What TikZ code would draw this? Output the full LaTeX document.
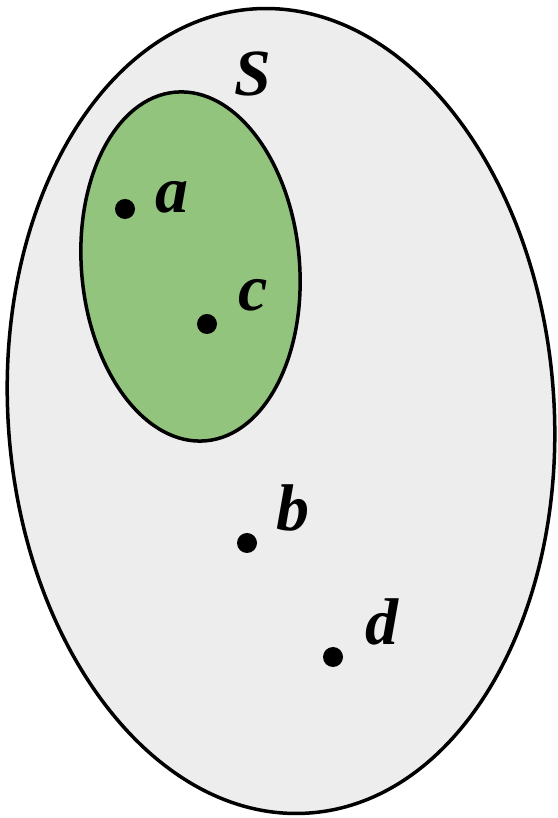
\documentclass[tikz,border=0pt]{standalone}
\usepackage{fontspec}
\setmainfont{Liberation Serif}
\usepackage{xcolor}
\usetikzlibrary{positioning}

\definecolor{setgray}{RGB}{237,237,237}
\definecolor{subgreen}{RGB}{146,196,126}
\newcommand{\setfont}{\fontsize{66}{66}\selectfont\bfseries\itshape}

\begin{document}
\begin{tikzpicture}[x=1pt, y=1pt, line width=3.5pt, node distance=1cm,
    dot/.style={circle, fill=black, inner sep=0pt, minimum size=20pt},
    lbl/.style={font=\setfont, inner sep=0pt, on grid}]
            \useasboundingbox (0,0) rectangle (557,818);

            % the set S and its subset
            \draw[fill=setgray, rotate around={4:(281,407)}] (281,407) ellipse (273 and 403);
            \draw[fill=subgreen, rotate around={5:(190.5,551.5)}] (190.5,551.5) ellipse (109 and 175);

            \node[lbl] (S) at (253,744) {S};

            \node[dot] (a) at (125,609) {};
            \node[dot] (c) at (207,494) {};
            \node[dot] (b) at (247,275) {};
            \node[dot] (d) at (333,161) {};

            \node[lbl, above right=12pt and 47pt of a] (la) {a};
            \node[lbl, above right=29pt and 46pt of c] (lc) {c};
            \node[lbl, above right=35pt and 46pt of b] (lb) {b};
            \node[lbl, above right=35pt and 49pt of d] (ld) {d};
        \end{tikzpicture}
\end{document}
